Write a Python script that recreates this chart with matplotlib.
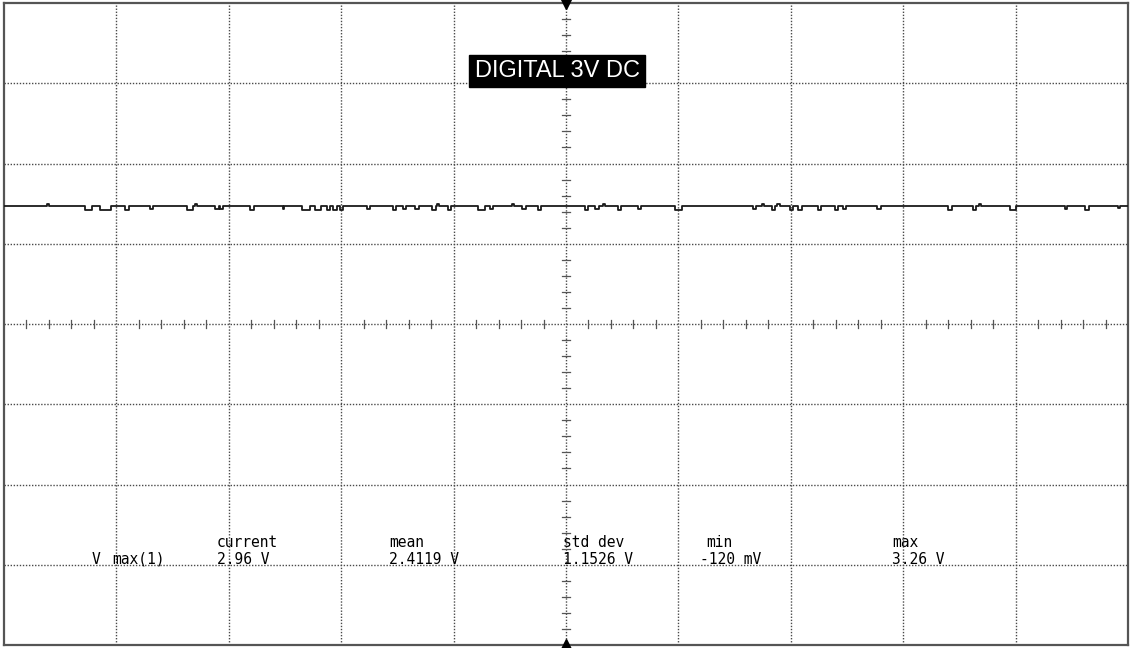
import numpy as np
import matplotlib
matplotlib.use('Agg')
import matplotlib.pyplot as plt

# scope screen: 10 x 8 divisions, trace level in divisions
trace_level = 1.47

# glitches on the trace (x in div, width in div, depth in div; negative depth = spike up)
glitch_x = [-4.62, -4.28, -4.15, -3.92, -3.70, -3.37, -3.30, -3.12, -3.08, -2.81,
            -2.52, -2.35, -2.23, -2.13, -2.07, -2.01, -1.77, -1.54, -1.45, -1.34,
            -1.19, -1.15, -1.05, -0.78, -0.68, -0.48, -0.39, -0.25, 0.17, 0.26,
            0.33, 0.46, 0.64, 0.97, 1.66, 1.74, 1.83, 1.88, 1.99, 2.06,
            2.24, 2.39, 2.46, 2.77, 3.40, 3.62, 3.67, 3.95, 4.44, 4.62, 4.91]
glitch_w = [0.02, 0.06, 0.10, 0.03, 0.03, 0.05, 0.02, 0.03, 0.03, 0.03,
            0.01, 0.07, 0.05, 0.03, 0.03, 0.03, 0.03, 0.03, 0.03, 0.03,
            0.03, 0.02, 0.03, 0.06, 0.03, 0.02, 0.03, 0.03, 0.03, 0.03,
            0.02, 0.03, 0.03, 0.06, 0.03, 0.02, 0.03, 0.02, 0.03, 0.04,
            0.03, 0.03, 0.03, 0.03, 0.03, 0.03, 0.02, 0.05, 0.02, 0.03, 0.02]
glitch_d = [-0.02, 0.045, 0.045, 0.045, 0.04, 0.045, -0.02, 0.04, 0.04, 0.045,
            0.04, 0.045, 0.045, 0.045, 0.045, 0.045, 0.04, 0.045, 0.04, 0.04,
            0.045, -0.02, 0.045, 0.05, 0.04, -0.02, 0.04, 0.045, 0.045, 0.04,
            -0.02, 0.05, 0.04, 0.045, 0.04, -0.02, 0.05, -0.02, 0.05, 0.05,
            0.045, 0.045, 0.04, 0.04, 0.045, 0.05, -0.02, 0.05, 0.04, 0.05, 0.03]

label_text = 'DIGITAL 3V DC'
meas_names = ['current', 'mean', 'std dev', 'min', 'max']
meas_values = ['2.96 V', '2.4119 V', '1.1526 V', '-120 mV', '3.26 V']
meas_name_x = [-3.105, -1.575, -0.03, 1.25, 2.90]
meas_value_x = [-3.105, -1.575, -0.03, 1.19, 2.90]

fig = plt.figure(figsize=(11.33, 6.48), dpi=100)
ax = fig.add_axes([4 / 1133, 3 / 648, 1124 / 1133, 642 / 648])
ax.set_xlim(-5, 5)
ax.set_ylim(-4, 4)
ax.set_xticks([])
ax.set_yticks([])
for s in ax.spines.values():
    s.set_color('#555555')
    s.set_linewidth(1.6)

grid_c = '#4a4a4a'
for gx in range(-4, 5):
    ax.axvline(gx, color=grid_c, lw=1.0, ls=(0, (1, 1.2)), zorder=1)
for gy in range(-3, 4):
    ax.axhline(gy, color=grid_c, lw=1.0, ls=(0, (1, 1.2)), zorder=1)

# minor ticks along center axes
for k in range(-20, 21):
    if k % 5 == 0:
        continue
    yy = k * 0.2
    ax.plot([-0.035, 0.035], [yy, yy], color='#555555', lw=0.9, zorder=2)
for k in range(-25, 26):
    if k % 5 == 0:
        continue
    xx = k * 0.2
    ax.plot([xx, xx], [-0.05, 0.05], color='#555555', lw=0.9, zorder=2)

# trigger markers
ax.plot([0], [4], marker='v', color='black', ms=9, clip_on=False, zorder=5)
ax.plot([0], [-4], marker='^', color='black', ms=9, clip_on=False, zorder=5)

# trace
tx = [-5.0]
ty = [trace_level]
for x0, w, d in zip(glitch_x, glitch_w, glitch_d):
    tx += [x0, x0, x0 + w, x0 + w]
    ty += [trace_level, trace_level - d, trace_level - d, trace_level]
tx.append(5.0)
ty.append(trace_level)
ax.plot(tx, ty, color='#1a1a1a', lw=1.3, zorder=4)

ax.text(-0.08, 3.15, label_text, color='white', fontsize=17, family='Liberation Sans',
        ha='center', va='center', zorder=6,
        bbox=dict(boxstyle='square,pad=0.22', fc='black', ec='black'))

mono = 'DejaVu Sans Mono'
for nx, name in zip(meas_name_x, meas_names):
    ax.text(nx, -2.78, name, fontsize=10.5, family=mono, color='black', va='baseline', zorder=6)
for vx, val in zip(meas_value_x, meas_values):
    ax.text(vx, -2.99, val, fontsize=10.5, family=mono, color='black', va='baseline', zorder=6)
ax.text(-4.22, -2.99, 'V', fontsize=10.5, family=mono, color='black', va='baseline', zorder=6)
ax.text(-4.04, -2.99, 'max(1)', fontsize=10.5, family=mono, color='black', va='baseline', zorder=6)

fig.savefig('out.png', dpi=100, facecolor='white')
